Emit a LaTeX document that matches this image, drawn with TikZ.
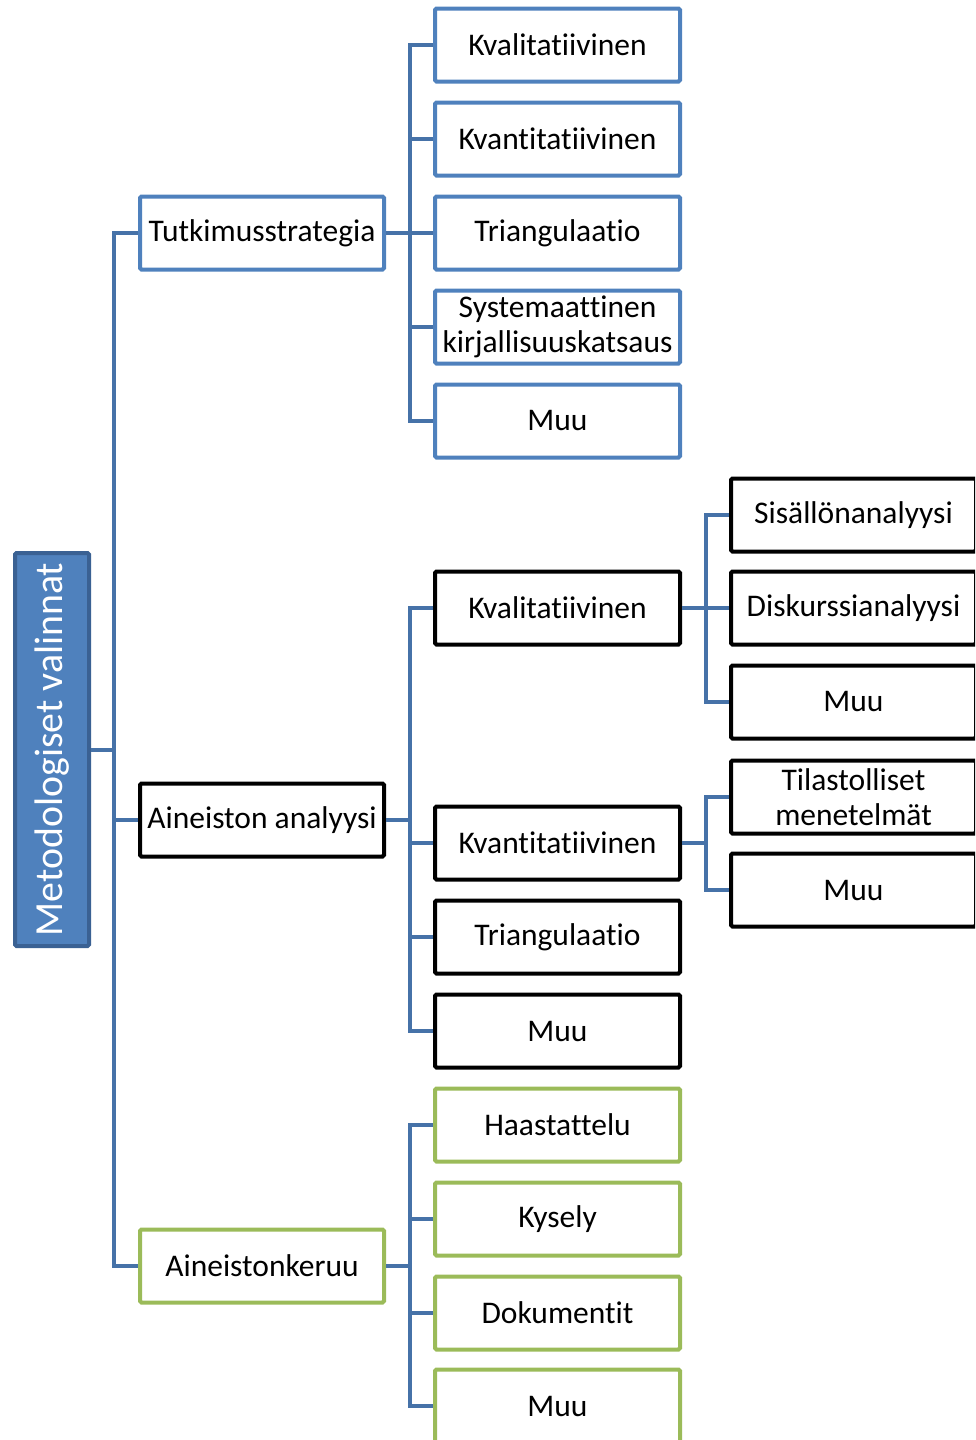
\documentclass[tikz,border=0pt]{standalone}
\usepackage{fontspec}
\setmainfont[Ligatures=NoCommon]{Carlito}
\definecolor{bblue}{HTML}{4F81BD}
\definecolor{cblue}{HTML}{4672A8}
\definecolor{rootedge}{HTML}{3A6193}
\definecolor{bgreen}{HTML}{9BBB59}
\tikzset{
  box/.style={draw, line width=4pt, rounded corners=1.5pt, minimum width=245pt, minimum height=73pt, inner sep=0pt, align=center, font=\fontsize{31.5}{35}\selectfont, fill=white},
  l1/.style={box, minimum width=244pt},
  bluebox/.style={box, draw=bblue},
  blackbox/.style={box, draw=black},
  greenbox/.style={box, draw=bgreen},
  conn/.style={draw=cblue, line width=4pt},
}
\begin{document}
\begin{tikzpicture}[x=1pt,y=-1pt]
\useasboundingbox (0,0) rectangle (975,1440);
\begin{scope}
\clip (0,0) rectangle (975,1440);
% root
\node[draw=rootedge, fill=bblue, line width=4pt, rounded corners=1.5pt, minimum width=74pt, minimum height=393pt, inner sep=0pt] (root) at (52,749.5) {};
\node[rotate=90, text=white, font=\fontsize{39.8}{42}\selectfont] (roottext) at (root.center) {Metodologiset valinnat};
% level 1
\node[l1, draw=bblue] (ts) at (262,233) {Tutkimusstrategia};
\node[l1, draw=black] (aa) at (262,820) {Aineiston analyysi};
\node[l1, draw=bgreen] (ak) at (262,1266) {Aineistonkeruu};
% level 2 - strategia
\node[bluebox] (ts1) at (557.5,45) {Kvalitatiivinen};
\node[bluebox] (ts2) at (557.5,139) {Kvantitatiivinen};
\node[bluebox] (ts3) at (557.5,233) {Triangulaatio};
\node[bluebox] (ts4) at (557.5,327) {Systemaattinen\\kirjallisuuskatsaus};
\node[bluebox] (ts5) at (557.5,421) {Muu};
% level 2 - analyysi
\node[blackbox] (aa1) at (557.5,608) {Kvalitatiivinen};
\node[blackbox] (aa2) at (557.5,843) {Kvantitatiivinen};
\node[blackbox] (aa3) at (557.5,937) {Triangulaatio};
\node[blackbox] (aa4) at (557.5,1031) {Muu};
% level 2 - keruu
\node[greenbox] (ak1) at (557.5,1125) {Haastattelu};
\node[greenbox] (ak2) at (557.5,1219) {Kysely};
\node[greenbox] (ak3) at (557.5,1313) {Dokumentit};
\node[greenbox] (ak4) at (557.5,1406) {Muu};
% level 3
\node[blackbox] (q1) at (853.5,515) {Sisällönanalyysi};
\node[blackbox] (q2) at (853.5,608) {Diskurssianalyysi};
\node[blackbox] (q3) at (853.5,702) {Muu};
\node[blackbox] (k1) at (853.5,797) {Tilastolliset\\menetelmät};
\node[blackbox] (k2) at (853.5,890) {Muu};
% connectors
\foreach \c in {ts,aa,ak}
  \draw[conn] (root.east) -- ++(23,0) |- (\c.west);
\foreach \c in {ts1,ts2,ts3,ts4,ts5}
  \draw[conn] (ts.east) -- ++(24,0) |- (\c.west);
\foreach \c in {aa1,aa2,aa3,aa4}
  \draw[conn] (aa.east) -- ++(24,0) |- (\c.west);
\foreach \c in {ak1,ak2,ak3,ak4}
  \draw[conn] (ak.east) -- ++(24,0) |- (\c.west);
\foreach \c in {q1,q2,q3}
  \draw[conn] (aa1.east) -- ++(24,0) |- (\c.west);
\foreach \c in {k1,k2}
  \draw[conn] (aa2.east) -- ++(24,0) |- (\c.west);
\end{scope}
\end{tikzpicture}
\end{document}
